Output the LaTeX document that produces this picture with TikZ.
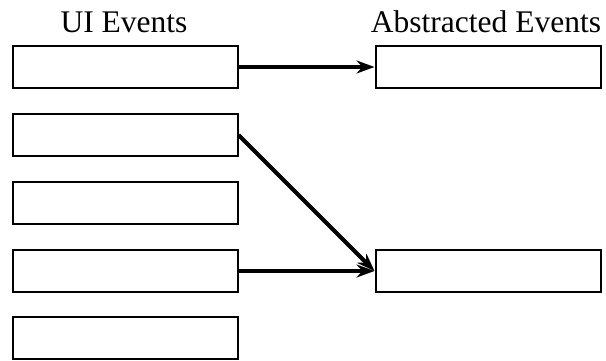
\documentclass[tikz,border=0pt]{standalone}
\usepackage{fontspec}
\setmainfont{Liberation Serif}
\usetikzlibrary{arrows.meta}
\begin{document}
\begin{tikzpicture}[x=1pt,y=1pt,
  evbox/.style={draw=black,line width=2pt,minimum width=225pt,minimum height=42pt,inner sep=0pt,fill=white},
  title/.style={font=\fontsize{31.5}{36}\selectfont,inner sep=0pt,anchor=base},
  conn/.style={line width=4pt,-{Stealth[length=18pt,width=13pt,inset=6pt]},shorten >=0pt}]
\useasboundingbox (0,0) rectangle (606,-360);
\node[title] (tl) at (124,-32) {UI Events};
\node[title] (tr) at (486,-32) {Abstracted Events};
\node[evbox] (u1) at (125,-67) {};
\node[evbox] (u2) at (125,-135) {};
\node[evbox] (u3) at (125,-203) {};
\node[evbox] (u4) at (125,-271) {};
\node[evbox] (u5) at (125,-338) {};
\node[evbox] (a1) at (488,-67) {};
\node[evbox] (a2) at (488,-271) {};
\draw[conn] (u1.east) -- (a1.west);
\draw[conn] (u2.east) -- (a2.west);
\draw[conn] (u4.east) -- (a2.west);
\end{tikzpicture}
\end{document}
